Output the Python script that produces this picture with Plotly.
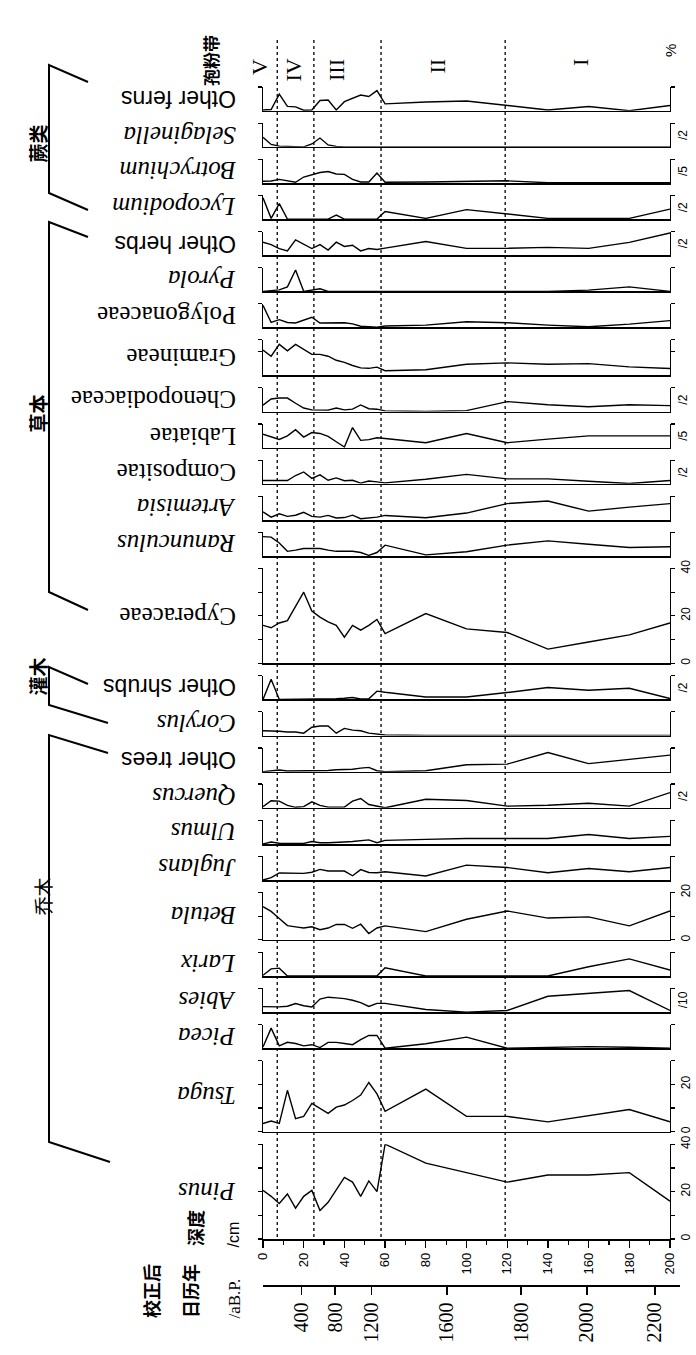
import plotly.graph_objects as go

# ---------------- data ----------------
depth_cm = [0, 4, 8, 12, 16, 20, 24, 28, 32, 36, 40, 44, 48, 52, 56, 60,
            80, 100, 120, 140, 160, 180, 200]

other_ferns = [0.3, 0.5, 7.0, 1.8, 1.6, 0.2, 0.3, 4.3, 4.5, 0.3, 3.8, 5.2, 6.6, 6.0, 8.5, 2.9, 3.7, 4.1, 2.1, 0.3, 1.8, 0.0, 2.2]
selaginella = [4.0, 1.0, 0.3, 0.2, 0, 0, 1.2, 3.7, 0.8, 0.2, 0, 0, 0, 0, 0, 0, 0, 0, 0, 0, 0, 0, 0]
botrychium = [0.7, 0.8, 1.5, 0.8, 0.3, 2.5, 3.5, 4.4, 4.8, 3.8, 3.6, 1.5, 0.4, 0.4, 4.2, 0.3, 0.4, 0.8, 0.9, 0.1, 0.1, 0.1, 0.1]
lycopodium = [9.0, 0.3, 6.5, 0, 0, 0, 0, 0, 0, 1.7, 0, 0, 0, 0, 0, 3.2, 0.3, 4.0, 2.0, 0.3, 0.3, 0.3, 4.2]
other_herbs = [5.5, 4.5, 2.8, 1.8, 6.5, 4.5, 2.8, 4.5, 2.2, 5.5, 3.7, 4.2, 1.8, 2.8, 2.4, 3.0, 5.8, 2.9, 2.9, 3.3, 2.9, 5.4, 9.4]
pyrola = [0, 0.2, 0.6, 1.9, 9.0, 0, 0.4, 1.1, 0, 0, 0, 0, 0, 0, 0, 0, 0.3, 0.3, 0, 0, 0.5, 1.9, 0]
polygonaceae = [9.3, 2.1, 3.3, 2.1, 1.9, 3.0, 4.3, 1.9, 2.0, 2.0, 2.0, 1.5, 0.5, 0.3, 0.1, 0.6, 1.0, 2.4, 2.0, 1.0, 0.3, 1.4, 2.9]
gramineae = [10.7, 8.1, 13.1, 10.4, 13.1, 11.0, 8.9, 8.9, 8.1, 6.4, 5.5, 4.2, 3.2, 3.0, 3.5, 2.0, 2.4, 4.7, 5.3, 4.7, 5.0, 3.6, 2.9]
chenopodiaceae = [2.7, 5.3, 5.7, 5.7, 3.5, 1.5, 0.7, 0.5, 0.6, 1.5, 0.7, 1.0, 2.8, 1.2, 1.0, 0.3, 0, 0.4, 4.2, 2.9, 2.0, 2.9, 2.5]
labiatae = [5.7, 4.5, 3.5, 5.0, 7.6, 4.5, 6.4, 6.0, 4.8, 2.5, 0.3, 8.5, 3.1, 3.4, 4.2, 3.9, 2.1, 6.0, 2.1, 3.6, 5.0, 5.0, 5.0]
compositae = [1.4, 1.3, 1.2, 1.4, 3.5, 5.0, 2.3, 3.8, 1.5, 2.5, 1.3, 1.5, 0.3, 1.2, 0.8, 0.4, 1.9, 4.0, 2.1, 2.1, 1.1, 0.1, 1.4]
artemisia = [3.4, 1.2, 2.6, 1.5, 2.0, 3.2, 1.5, 1.2, 1.9, 0.8, 1.0, 2.0, 0.5, 0.8, 1.2, 1.9, 0.9, 2.9, 6.9, 8.0, 3.7, 5.4, 6.9]
ranunculus = [8.2, 8.0, 5.5, 2.0, 2.5, 3.2, 3.2, 3.2, 2.5, 2.0, 2.0, 2.0, 1.5, 0.3, 1.5, 4.6, 0.5, 1.8, 4.6, 6.4, 5.0, 3.6, 3.9]
cyperaceae = [16, 15, 17, 18, 24, 30, 22, 19.5, 17.5, 16, 11, 16, 14, 16, 18.5, 12.5, 21, 14.5, 13, 6, 9, 12, 17]
other_shrubs = [0, 8.5, 0, 0, 0, 0.2, 0.2, 0.2, 0.2, 0.3, 0.5, 0.8, 0.2, 0.3, 3.5, 3.0, 1.0, 1.0, 2.9, 5.0, 3.9, 4.7, 0.4]
corylus = [2.0, 2.0, 1.8, 1.5, 1.5, 1.0, 3.5, 4.0, 4.0, 1.0, 3.0, 2.3, 2.0, 1.0, 0.6, 0.2, 0, 0, 0, 0, 0, 0, 0]
other_trees = [0, 0.5, 0.7, 0.3, 0.3, 0.3, 0.5, 0.4, 0.5, 0.8, 0.8, 1.0, 1.5, 1.8, 0.4, 0, 0.4, 2.9, 3.2, 8.1, 3.4, 5.1, 7.0]
quercus = [0.5, 3.0, 2.8, 1.0, 0.2, 0.5, 2.5, 1.0, 0.3, 0.3, 0.3, 2.8, 3.9, 1.4, 0.7, 0, 3.6, 3.1, 0.7, 1.1, 1.9, 0.7, 6.4]
ulmus = [0, 0.8, 0.3, 0.2, 0.2, 0.2, 1.0, 0.5, 0.5, 0.8, 0.8, 1.0, 1.2, 1.7, 0.5, 1.5, 1.9, 2.3, 2.3, 2.3, 4.0, 2.3, 3.2]
juglans = [0, 1.0, 3.0, 3.0, 2.7, 2.8, 3.3, 4.5, 3.8, 3.7, 3.8, 1.8, 4.4, 3.2, 3.1, 3.5, 1.7, 6.3, 5.3, 3.1, 4.9, 3.5, 5.3]
betula = [14, 12, 9, 6, 5.5, 5, 5.5, 4.3, 5, 6.5, 6.5, 4.9, 6.6, 2.7, 5, 5.9, 3.5, 8.7, 12.2, 9.2, 9.7, 5.9, 12.2]
larix = [0.3, 3.0, 3.3, 0, 0, 0, 0, 0, 0, 0, 0, 0, 0, 0, 0, 3.5, 0, 0, 0, 0, 3.9, 7.2, 2.5]
abies = [2.3, 2.2, 2.2, 2.5, 3.6, 2.7, 2.2, 5.5, 6.3, 6.0, 5.7, 5.0, 4.0, 2.4, 3.7, 3.7, 1.1, 0, 0.7, 6.7, 8.0, 9.1, 0.7]
picea = [0.5, 8.5, 1.0, 2.5, 2.0, 1.0, 1.5, 0.3, 2.5, 2.5, 2.0, 1.5, 3.6, 5.4, 5.4, 0, 1.9, 4.7, 0, 0.3, 0.7, 0.4, 0]
tsuga = [3.5, 4.5, 3.5, 17.5, 5.5, 6.5, 12, 10, 7.8, 10.4, 11.3, 13.2, 15.5, 20.8, 16, 8.6, 18, 6.5, 6.5, 4.2, 6.9, 9.4, 4.2]
pinus = [20.5, 18, 15, 19, 13, 18, 20.5, 12, 15.5, 21, 26, 24, 18, 24.5, 20, 40, 32, 28, 24, 27, 27, 28, 16]

# taxon names (top to bottom), exaggeration notes, zone data, age scale
taxon_names = ["Other ferns", "Selaginella", "Botrychium", "Lycopodium", "Other herbs",
               "Pyrola", "Polygonaceae", "Gramineae", "Chenopodiaceae", "Labiatae",
               "Compositae", "Artemisia", "Ranunculus", "Cyperaceae", "Other shrubs",
               "Corylus", "Other trees", "Quercus", "Ulmus", "Juglans", "Betula",
               "Larix", "Abies", "Picea", "Tsuga", "Pinus"]
taxon_values = [other_ferns, selaginella, botrychium, lycopodium, other_herbs,
                pyrola, polygonaceae, gramineae, chenopodiaceae, labiatae,
                compositae, artemisia, ranunculus, cyperaceae, other_shrubs,
                corylus, other_trees, quercus, ulmus, juglans, betula,
                larix, abies, picea, tsuga, pinus]
italic_names = {"Selaginella", "Botrychium", "Lycopodium", "Pyrola", "Artemisia",
                "Ranunculus", "Corylus", "Quercus", "Ulmus", "Juglans", "Betula",
                "Larix", "Abies", "Picea", "Tsuga", "Pinus"}
sans_names = {"Other ferns", "Other herbs", "Other shrubs", "Other trees"}
exaggeration = {"Selaginella": "/2", "Botrychium": "/5", "Lycopodium": "/2",
                "Other herbs": "/2", "Chenopodiaceae": "/2", "Labiatae": "/5",
                "Compositae": "/2", "Other shrubs": "/2", "Quercus": "/2",
                "Abies": "/10"}
scale_max = {"Gramineae": 15, "Cyperaceae": 40, "Betula": 20, "Tsuga": 30, "Pinus": 40}
labelled_scales = {"Cyperaceae", "Betula", "Tsuga", "Pinus"}

zone_bounds_cm = [7, 25, 58, 119]
zone_names = ["V", "IV", "III", "II", "I"]
age_labels = ["400", "800", "1200", "1600", "1800", "2000", "2200"]
age_depth_cm = [19.0, 35.4, 53.4, 90.4, 126.8, 159.1, 192.6]

groups = [("蕨类", 0, 3), ("草本", 4, 13), ("灌木", 14, 15), ("乔木", 16, 25)]

# ---------------- layout helpers ----------------
W, H = 696, 1355
X0, X1 = 263, 670
TOP, BOT = 87, 1239
PXPCT = 2.37


def fx(px):
    return px / W


def fy(py):
    return 1 - py / H


n = len(taxon_names)
ymaxs = [scale_max.get(t, 10) for t in taxon_names]
heights = [m * PXPCT for m in ymaxs]
gap = (BOT - TOP - sum(heights)) / (n - 1)
panel_top, panel_bot = [], []
yc = TOP
for h in heights:
    panel_top.append(yc)
    panel_bot.append(yc + h)
    yc += h + gap

fig = go.Figure()
layout = dict(width=W, height=H, margin=dict(l=0, r=0, t=0, b=0, autoexpand=False),
              paper_bgcolor="white", plot_bgcolor="white", showlegend=False)
annotations = []
shapes = []

SERIF = "Liberation Serif, Times New Roman, serif"
SANS = "Liberation Sans, Arial, sans-serif"
CJK = "Noto Sans CJK SC"

for i, (name, vals) in enumerate(zip(taxon_names, taxon_values)):
    k = i + 1
    xa = "x" if k == 1 else f"x{k}"
    ya = "y" if k == 1 else f"y{k}"
    fig.add_trace(go.Scatter(x=depth_cm, y=vals, mode="lines",
                             line=dict(color="black", width=1.4),
                             xaxis=xa, yaxis=ya, hoverinfo="skip"))
    ymax = ymaxs[i]
    is_pinus = name == "Pinus"
    xdict = dict(domain=[fx(X0), fx(X1)], range=[0, 200], anchor=ya,
                 showline=True, linecolor="black", linewidth=1.6,
                 showgrid=False, zeroline=False, automargin=False,
                 ticks="outside" if is_pinus else "",
                 showticklabels=is_pinus)
    if is_pinus:
        xdict.update(tickvals=list(range(0, 201, 20)), ticklen=7, tickwidth=1.3,
                     tickcolor="black", tickangle=-90,
                     tickfont=dict(family=SANS, size=13, color="black"),
                     minor=dict(ticks="outside", tickvals=list(range(10, 200, 20)),
                                ticklen=4, tickwidth=1.2, tickcolor="black"))
    if k > 1:
        xdict["matches"] = "x"
    tickv = list(range(10, int(ymax) + 1, 10))
    if ymax not in tickv:
        tickv.append(ymax)
    ydict = dict(domain=[fy(panel_bot[i]), fy(panel_top[i])], range=[0, ymax],
                 anchor=xa, side="right", showline=True, mirror="ticks",
                 linecolor="black", linewidth=1.4, showgrid=False, zeroline=False,
                 automargin=False,
                 ticks="outside", ticklen=4, tickwidth=1.2, tickcolor="black",
                 tickvals=tickv, showticklabels=False)
    if name in labelled_scales:
        tv = list(range(0, int(ymax) + 1, 10))
        ydict.update(tickvals=tv,
                     ticktext=[str(v) if v % 20 == 0 else "" for v in tv],
                     showticklabels=True, tickangle=-90,
                     tickfont=dict(family=SANS, size=12, color="black"))
    layout["xaxis" if k == 1 else f"xaxis{k}"] = xdict
    layout["yaxis" if k == 1 else f"yaxis{k}"] = ydict

    mid = (panel_top[i] + panel_bot[i]) / 2
    txt = f"<i>{name}</i>" if name in italic_names else name
    fam = SANS if name in sans_names else SERIF
    annotations.append(dict(text=txt, x=fx(238), y=fy(mid), xref="paper", yref="paper",
                            xanchor="right", yanchor="middle", textangle=180,
                            showarrow=False,
                            font=dict(family=fam, size=25 if fam == SERIF else 23, color="black")))
    if name in exaggeration:
        annotations.append(dict(text=exaggeration[name], x=fx(683), y=fy(mid),
                                xref="paper", yref="paper", xanchor="center",
                                yanchor="middle", textangle=-90, showarrow=False,
                                font=dict(family=SANS, size=12, color="black")))

# calibrated age axis
ka = n + 1
fig.add_trace(go.Scatter(x=[None], y=[None], xaxis=f"x{ka}", yaxis=f"y{ka}",
                         hoverinfo="skip"))
AGE_END = 680
layout[f"xaxis{ka}"] = dict(domain=[fx(X0), fx(AGE_END)],
                            range=[0, (AGE_END - X0) * 200 / (X1 - X0)],
                            anchor=f"y{ka}", showline=True, linecolor="black",
                            linewidth=1.5, showgrid=False, zeroline=False,
                            automargin=False,
                            ticks="outside", ticklen=8, tickwidth=1.6, tickcolor="black",
                            tickvals=age_depth_cm, ticktext=age_labels, tickangle=-90,
                            tickfont=dict(family=SERIF, size=20, color="black"))
layout[f"yaxis{ka}"] = dict(domain=[fy(1285), fy(1284)], anchor=f"x{ka}",
                            visible=False, range=[0, 1], automargin=False)

# zone boundaries
for zb in zone_bounds_cm:
    shapes.append(dict(type="line", xref="x", yref="paper", x0=zb, x1=zb,
                       y0=fy(1237), y1=fy(40),
                       line=dict(color="black", width=1.3, dash="dot")))

# zone labels
zone_px = [260, 293, 337, 437, 595]
for zn, zx in zip(zone_names, zone_px):
    annotations.append(dict(text=zn, x=fx(zx), y=fy(57), xref="paper", yref="paper",
                            textangle=-90, showarrow=False,
                            font=dict(family=SERIF, size=22, color="black")))
annotations.append(dict(text="%", x=fx(681), y=fy(42), xref="paper", yref="paper",
                        textangle=-90, showarrow=False,
                        font=dict(family=SANS, size=15, color="black")))
annotations.append(dict(text="<b>孢粉带</b>", x=fx(196), y=fy(33), xref="paper", yref="paper",
                        textangle=-90, showarrow=False,
                        font=dict(family=CJK, size=17, color="black")))

# group brackets
bracket_px = [((88, 82), (49, 65), (49, 193), (88, 210)),
              ((88, 237), (49, 222), (49, 592), (88, 610)),
              ((88, 684), (49, 667), (49, 705), (108, 723)),
              ((108, 753), (49, 735), (49, 1142), (110, 1162))]
group_label_px = [(21, 123), (21, 393), (21, 677), (26, 918)]
for (gname, _, _), pts, (lx, ly) in zip(groups, bracket_px, group_label_px):
    path = "M " + " L ".join(f"{fx(px)},{fy(py)}" for px, py in pts)
    shapes.append(dict(type="path", xref="paper", yref="paper", path=path,
                       line=dict(color="black", width=2)))
    txt = gname if gname == "乔木" else f"<b>{gname}</b>"
    annotations.append(dict(text=txt, x=fx(lx), y=fy(ly), xref="paper", yref="paper",
                            textangle=-90, showarrow=False,
                            font=dict(family=CJK, size=19, color="black")))

# axis titles (bottom-left)
axis_titles = [("<b>深度</b>", 180, 1248, CJK, 18), ("/cm", 222, 1250, SANS, 16),
               ("<b>校正后</b>", 136, 1320, CJK, 18), ("<b>日历年</b>", 175, 1320, CJK, 18),
               ("/aB.P.", 222, 1321, SERIF, 17)]
for t, x, y, f, s in axis_titles:
    annotations.append(dict(text=t, x=fx(x), y=fy(y), xref="paper", yref="paper",
                            textangle=-90, showarrow=False,
                            font=dict(family=f, size=s, color="black")))

layout["annotations"] = annotations
layout["shapes"] = shapes
fig.update_layout(**layout)
fig.write_html("out.html",
               config={"displayModeBar": False, "staticPlot": True},
               post_script="document.body.style.margin='0px';"
                           "document.body.style.padding='0px';"
                           "document.documentElement.style.overflow='hidden';")
